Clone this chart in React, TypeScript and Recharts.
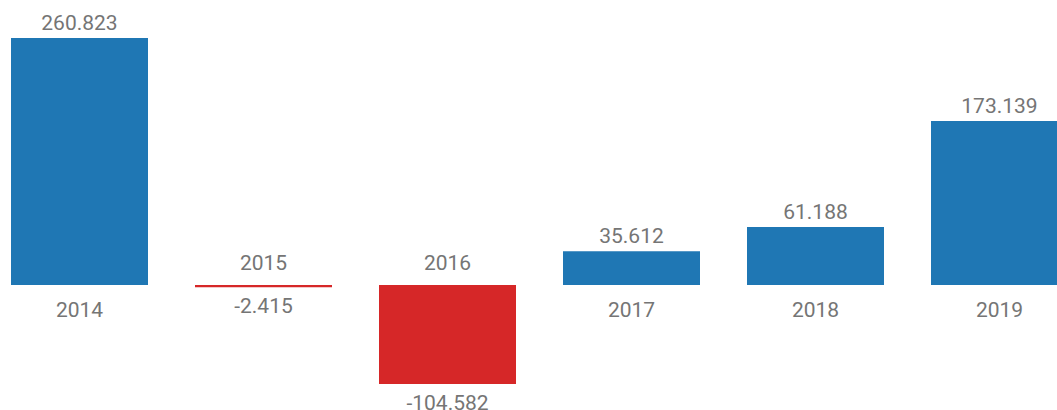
import React from 'react';
import { BarChart, Bar, XAxis, YAxis, Cell, LabelList } from 'recharts';

const years = ['2014', '2015', '2016', '2017', '2018', '2019'];
const values = [260.823, -2.415, -104.582, 35.612, 61.188, 173.139];

const POS_COLOR = '#1f77b4';
const NEG_COLOR = '#d62728';
const TEXT_COLOR = '#757575';

const data = years.map((y, i) => ({ year: y, value: values[i] }));

const fontStyle = { fontFamily: 'Roboto, sans-serif', fontSize: 21, fill: TEXT_COLOR };

const ValueLabel = (props: any) => {
  const { x, y, width, height, value } = props;
  const top = Math.min(y, y + height);
  const bottom = Math.max(y, y + height);
  const cx = x + width / 2;
  if (value >= 0) {
    return (
      <text x={cx} y={top - 8} textAnchor="middle" style={fontStyle}>
        {Number(value).toFixed(3)}
      </text>
    );
  }
  return (
    <text x={cx} y={bottom + 26} textAnchor="middle" style={fontStyle}>
      {Number(value).toFixed(3)}
    </text>
  );
};

const YearLabel = (props: any) => {
  const { x, y, width, height, index } = props;
  const top = Math.min(y, y + height);
  const bottom = Math.max(y, y + height);
  const cx = x + width / 2;
  const v = values[index];
  if (v >= 0) {
    return (
      <text x={cx} y={bottom + 32} textAnchor="middle" style={fontStyle}>
        {years[index]}
      </text>
    );
  }
  return (
    <text x={cx} y={top - 15} textAnchor="middle" style={fontStyle}>
      {years[index]}
    </text>
  );
};

export default function App() {
  return (
    <div
      style={{
        position: 'fixed',
        left: 0,
        top: 0,
        width: 1057,
        height: 410,
        overflow: 'hidden',
        background: '#fff',
      }}
    >
      <div style={{ position: 'absolute', left: -13, top: 0 }}>
        <BarChart
          width={1104}
          height={410}
          data={data}
          margin={{ top: 1, right: 0, bottom: 2, left: 0 }}
        >
          <XAxis dataKey="year" hide />
          <YAxis hide domain={[-130, 300]} />
          <Bar dataKey="value" barSize={137} isAnimationActive={false}>
            {data.map((d, i) => (
              <Cell key={i} fill={d.value >= 0 ? POS_COLOR : NEG_COLOR} />
            ))}
            <LabelList dataKey="value" content={ValueLabel} />
            <LabelList dataKey="year" content={YearLabel} />
          </Bar>
        </BarChart>
      </div>
    </div>
  );
}
